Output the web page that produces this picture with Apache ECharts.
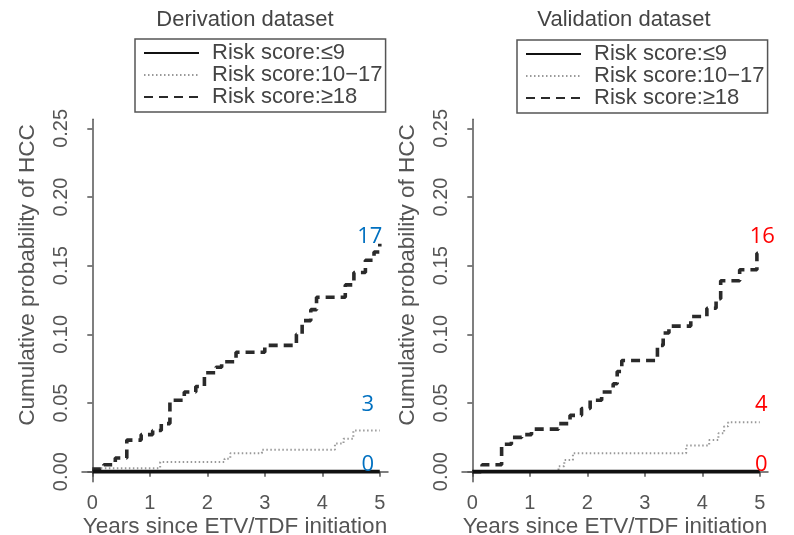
<!DOCTYPE html>
<html><head><meta charset="utf-8">
<script src="https://cdn.jsdelivr.net/npm/echarts@6/dist/echarts.min.js"></script>
<style>html,body{margin:0;padding:0;background:#fff}#c{width:794px;height:535px}</style>
</head><body><div id="c"></div>
<script>
// ---- data ----
const seriesNames = ['Risk score:≤9', 'Risk score:10−17', 'Risk score:≥18'];
const panelTitles = ['Derivation dataset', 'Validation dataset'];
const xAxisTitle = 'Years since ETV/TDF initiation';
const yAxisTitle = 'Cumulative probability of HCC';
const xTicks = [0, 1, 2, 3, 4, 5];
const yTicks = [0, 0.05, 0.10, 0.15, 0.20, 0.25];

// Derivation dataset
const derivLowT = [0, 5];
const derivLowV = [0, 0];
const derivMidT = [0, 0.15, 1.18, 2.3, 2.4, 2.95, 4.22, 4.37, 4.54, 5.0];
const derivMidV = [0, 0.0025, 0.007, 0.0095, 0.0135, 0.016, 0.0205, 0.024, 0.030, 0.030];
const derivHighT = [0, 0.2, 0.4, 0.6, 0.85, 1.05, 1.2, 1.35, 1.6, 1.8, 1.95, 2.15, 2.25, 2.5, 3.0, 3.55, 3.65, 3.8, 3.9, 4.4, 4.55, 4.75, 4.9, 5.0];
const derivHighV = [0.002, 0.005, 0.010, 0.023, 0.027, 0.030, 0.035, 0.052, 0.058, 0.062, 0.072, 0.076, 0.080, 0.087, 0.092, 0.100, 0.110, 0.118, 0.127, 0.136, 0.145, 0.154, 0.160, 0.166];
const derivCounts = [0, 3, 17];

// Validation dataset
const validLowT = [0, 5];
const validLowV = [0, 0];
const validMidT = [0, 1.5, 1.6, 1.75, 3.72, 4.12, 4.28, 4.38, 4.45, 5.0];
const validMidV = [0, 0.004, 0.0085, 0.0135, 0.019, 0.023, 0.028, 0.033, 0.036, 0.036];
const validHighT = [0, 0.17, 0.51, 0.68, 0.86, 1.03, 1.5, 1.7, 1.9, 2.05, 2.25, 2.45, 2.52, 2.6, 3.22, 3.32, 3.42, 3.8, 4.08, 4.24, 4.32, 4.65, 4.95, 5.0];
const validHighV = [0, 0.005, 0.020, 0.025, 0.027, 0.031, 0.035, 0.041, 0.046, 0.052, 0.058, 0.064, 0.073, 0.081, 0.092, 0.101, 0.106, 0.113, 0.119, 0.126, 0.139, 0.147, 0.159, 0.161];
const validCounts = [0, 4, 16];

// ---- styling / layout ----
const FONT = 'Liberation Sans, Arial, sans-serif';
const AX = '#555';
const lineStyles = [
  { color: '#111', width: 3.8, type: 'solid' },
  { color: '#999', width: 2, type: [1.5, 2.5] },
  { color: '#2a2a2a', width: 3.6, type: [9, 6] }
];
const panels = [
  { left: 82, T: [derivLowT, derivMidT, derivHighT], V: [derivLowV, derivMidV, derivHighV], counts: derivCounts,
    countColor: '#0070C0', offsets: [[-12, -7], [-12, -26], [-10, -7]], titleX: 245, yTitleX: 28, legendLeft: 135, legendTop: 39 },
  { left: 462, T: [validLowT, validMidT, validHighT], V: [validLowV, validMidV, validHighV], counts: validCounts,
    countColor: '#FF0000', offsets: [[1.5, -7], [1.5, -18], [2.5, -14]], titleX: 624, yTitleX: 408, legendLeft: 517, legendTop: 40 }
];

const grids = [], xAxes = [], yAxes = [], series = [], legends = [], graphics = [];
panels.forEach((p, i) => {
  grids.push({ left: p.left, width: 306, top: 119.3, height: 362.4, containLabel: false, outerBoundsMode: 'none' });
  xAxes.push({
    gridIndex: i, type: 'value', min: -0.179, max: 5.143,
    axisLine: { show: true, lineStyle: { color: AX, width: 1.5 } },
    axisTick: { show: true, customValues: xTicks, length: 5, lineStyle: { color: AX, width: 1.5 } },
    axisLabel: { customValues: xTicks, margin: 11.5, fontSize: 20, color: AX, fontFamily: FONT },
    splitLine: { show: false },
    name: xAxisTitle, nameLocation: 'middle', nameGap: 33.5, nameMoveOverlap: false,
    nameTextStyle: { fontSize: 22.5, color: AX, fontFamily: FONT }
  });
  yAxes.push({
    gridIndex: i, type: 'value', min: -0.0073, max: 0.2566,
    axisLine: { show: true, lineStyle: { color: AX, width: 1.5 } },
    axisTick: { show: true, customValues: yTicks, length: 5, lineStyle: { color: AX, width: 1.5 } },
    axisLabel: { customValues: yTicks, rotate: 90, margin: 11, fontSize: 20, color: AX, fontFamily: FONT,
      formatter: v => v.toFixed(2) },
    splitLine: { show: false }
  });
  for (let k = 0; k < 3; k++) {
    const T = p.T[k], V = p.V[k];
    series.push({
      type: 'line', name: seriesNames[k], xAxisIndex: i, yAxisIndex: i,
      step: 'end', symbol: 'none', showSymbol: false, animation: false,
      lineStyle: lineStyles[k], itemStyle: { color: lineStyles[k].color },
      z: 3 - k + 2,
      data: T.map((t, j) => [t, V[j]])
    });
    series.push({
      type: 'scatter', xAxisIndex: i, yAxisIndex: i, silent: true, animation: false,
      symbolSize: 1, itemStyle: { opacity: 0 },
      label: { show: true, position: 'inside', offset: p.offsets[k], formatter: String(p.counts[k]),
        color: p.countColor, fontSize: 22, fontFamily: 'Open Sans, Noto Sans, sans-serif', opacity: 1 },
      z: 10,
      data: [[T[T.length - 1], V[V.length - 1]]]
    });
  }
  legends.push({
    data: seriesNames, orient: 'vertical', left: p.legendLeft, top: p.legendTop,
    itemWidth: 55, itemHeight: 14, itemGap: 0, selectedMode: false,
    itemStyle: { opacity: 0 },
    padding: [3, 3, 4, 8], borderColor: AX, borderWidth: 1.5,
    textStyle: { fontSize: 22, lineHeight: 22, color: '#444', fontFamily: FONT, padding: [0, 0, 0, 8] }
  });
  graphics.push({
    type: 'text', x: p.titleX, y: 20,
    style: { text: panelTitles[i], font: '22px ' + FONT, fill: '#444', textAlign: 'center', textVerticalAlign: 'middle' }
  });
  graphics.push({
    type: 'text', x: p.yTitleX, y: 275, rotation: Math.PI / 2,
    style: { text: yAxisTitle, font: '22.5px ' + FONT, fill: AX, textAlign: 'center', textVerticalAlign: 'middle' }
  });
});

const chart = echarts.init(document.getElementById('c'), null, { renderer: 'canvas' });
chart.setOption({
  backgroundColor: '#fff',
  animation: false,
  grid: grids, xAxis: xAxes, yAxis: yAxes, series: series, legend: legends, graphic: graphics
});
</script>
</body></html>
